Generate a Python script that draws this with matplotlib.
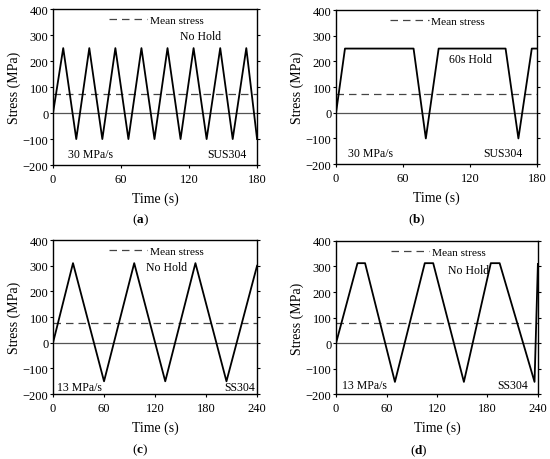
import matplotlib
matplotlib.use('Agg')
import matplotlib.pyplot as plt

plt.rcParams['font.family'] = ['Liberation Serif', 'DejaVu Serif']
plt.rcParams['mathtext.fontset'] = 'custom'
plt.rcParams['mathtext.rm'] = 'Liberation Serif'
plt.rcParams['mathtext.bf'] = 'Liberation Serif:bold'

# vertex points of each load history (time s, stress MPa)
t_a = [0, 9, 20.5, 32, 43.5, 55, 66.5, 78, 89.5, 101, 112.5, 124, 135.5, 147.5, 158.5, 170.5, 180]
s_a = [0, 250, -100, 250, -100, 250, -100, 250, -100, 250, -100, 250, -100, 250, -100, 250, -100]

t_b = [0, 8, 69.5, 80.5, 92, 152, 163.5, 175.5, 180]
s_b = [0, 250, 250, -100, 250, 250, -100, 250, 250]

t_c = [0, 23.5, 60, 95.5, 132, 167.5, 204, 240]
s_c = [0, 310, -150, 310, -150, 310, -150, 300]

t_d = [0, 25.5, 34.5, 70, 105.5, 115.5, 152, 184, 194.5, 236, 240]
s_d = [0, 313, 313, -152, 313, 313, -152, 313, 313, -152, 310]

mean_ab = 75
mean_cd = 78

panels = [
    dict(t=t_a, s=s_a, mean=mean_ab, xmax=180, xt=[0, 60, 120, 180], hold='No Hold', hold_xy=(0.725, 0.83),
         rate='30 MPa/s', rate_x=0.075, rate_y=0.07, mat='SUS304', mat_x=0.95, mat_y=0.07, tag='a',
         pos=[0.0964, 0.639, 0.371, 0.339], tag_xy=(0.255, 0.522)),
    dict(t=t_b, s=s_b, mean=mean_ab, xmax=180, xt=[0, 60, 120, 180], hold='60s Hold', hold_xy=(0.67, 0.68),
         rate='30 MPa/s', rate_x=0.06, rate_y=0.07, mat='SUS304', mat_x=0.93, mat_y=0.07, tag='b',
         pos=[0.611, 0.641, 0.365, 0.335], tag_xy=(0.758, 0.522)),
    dict(t=t_c, s=s_c, mean=mean_cd, xmax=240, xt=[0, 60, 120, 180, 240], hold='No Hold', hold_xy=(0.555, 0.825),
         rate='13 MPa/s', rate_x=0.02, rate_y=0.045, mat='SS304', mat_x=0.99, mat_y=0.045, tag='c',
         pos=[0.0964, 0.141, 0.371, 0.335], tag_xy=(0.255, 0.022)),
    dict(t=t_d, s=s_d, mean=mean_cd, xmax=240, xt=[0, 60, 120, 180, 240], hold='No Hold', hold_xy=(0.655, 0.81),
         rate='13 MPa/s', rate_x=0.03, rate_y=0.06, mat='SS304', mat_x=0.95, mat_y=0.06, tag='d',
         pos=[0.611, 0.141, 0.367, 0.333], tag_xy=(0.762, 0.02)),
]

fig = plt.figure(figsize=(5.5, 4.6), dpi=100)

for p in panels:
    ax = fig.add_axes(p['pos'])
    ax.axhline(0, color='#555555', lw=0.9)
    ax.plot([0, p['xmax']], [p['mean'], p['mean']], color='#444444', lw=0.9,
            dashes=(6, 4), label='Mean stress')
    ax.plot(p['t'], p['s'], color='black', lw=1.3)
    ax.set_xlim(0, p['xmax'])
    ax.set_ylim(-200, 400)
    ax.set_xticks(p['xt'])
    ax.set_yticks([-200, -100, 0, 100, 200, 300, 400])
    ax.set_yticklabels(['\u2212200', '\u2212100', '0', '100', '200', '300', '400'])
    ax.tick_params(direction='out', length=2.5, width=0.8, labelsize=9,
                   right=True, top=False)
    ax.tick_params(axis='x', pad=3)
    ax.tick_params(axis='y', pad=0.8)
    for sp in ax.spines.values():
        sp.set_linewidth(1.0)
    ax.set_xlabel('Time (s)', fontsize=10, labelpad=5)
    ax.set_ylabel('Stress (MPa)', fontsize=10, labelpad=1)
    ax.legend(loc='upper center', bbox_to_anchor=(0.505, 1.012), frameon=False,
              handlelength=3.4, handletextpad=0.2, fontsize=8.2, borderpad=0.2)
    ax.text(*p['hold_xy'], p['hold'], transform=ax.transAxes, ha='center', va='center', fontsize=8.5)
    ax.text(p['rate_x'], p['rate_y'], p['rate'], transform=ax.transAxes, ha='left', va='center', fontsize=8.5)
    ax.text(p['mat_x'], p['mat_y'], p['mat'], transform=ax.transAxes, ha='right', va='center', fontsize=8.5)
    fig.text(*p['tag_xy'], r'($\mathbf{%s}$)' % p['tag'], ha='center', va='center', fontsize=9.5)

fig.savefig('out.png', dpi=100)
